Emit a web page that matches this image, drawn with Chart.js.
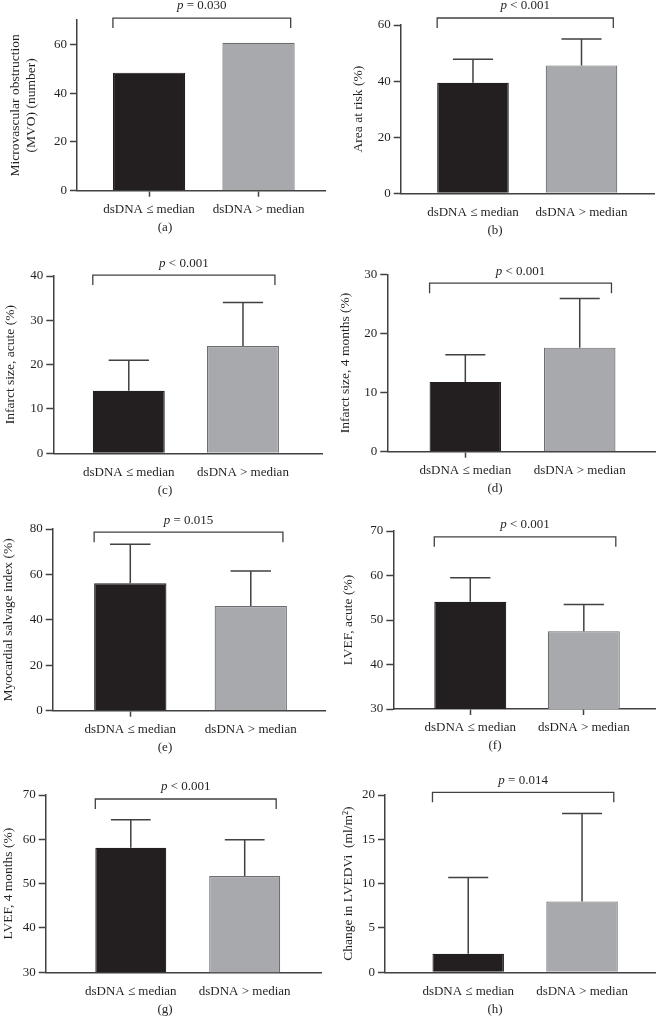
<!DOCTYPE html>
<html>
<head>
<meta charset="utf-8">
<script src="https://cdn.jsdelivr.net/npm/chart.js@4.4.1/dist/chart.umd.min.js"></script>
<style>
  body { margin: 0; background: #fff; width: 660px; height: 1032px; position: relative; overflow: hidden; }
  canvas { position: absolute; }
</style>
</head>
<body>
<script>
// ---- data ----
const categories = ['dsDNA \u2264 median', 'dsDNA > median'];
const panelLabels = ['(a)', '(b)', '(c)', '(d)', '(e)', '(f)', '(g)', '(h)'];
const yTitles = [
  ['Microvascular obstruction', '(MVO) (number)'],
  'Area at risk (%)',
  'Infarct size, acute (%)',
  'Infarct size, 4 months (%)',
  'Myocardial salvage index (%)',
  'LVEF, acute (%)',
  'LVEF, 4 months (%)',
  'Change in LVEDVi  (ml/m\u00b2)'
];
const means = [
  [48.4, 60.7],
  [39.4, 45.6],
  [14.1, 24.2],
  [11.8, 17.6],
  [56.1, 46.1],
  [54.1, 47.5],
  [58.1, 51.7],
  [2.1, 8.0]
];
const sds = [
  null,
  [8.4, 9.4],
  [6.9, 9.8],
  [4.6, 8.3],
  [17.2, 15.4],
  [5.4, 6.0],
  [6.3, 8.2],
  [8.6, 9.9]
];
const pTexts = ['= 0.030', '< 0.001', '< 0.001', '< 0.001', '= 0.015', '< 0.001', '< 0.001', '= 0.014'];
const yTicks = [
  [0, 20, 40, 60],
  [0, 20, 40, 60],
  [0, 10, 20, 30, 40],
  [0, 10, 20, 30],
  [0, 20, 40, 60, 80],
  [30, 40, 50, 60, 70],
  [30, 40, 50, 60, 70],
  [0, 5, 10, 15, 20]
];
const yMin = [0, 0, 0, 0, 0, 30, 30, 0];
const yMax = [70, 60, 40, 30, 80, 70, 70, 20];
const bracketLevels = [70.8, 62.5, 40.2, 28.5, 78.6, 68.7, 69.1, 20.3];

// ---- layout (page pixels) ----
const layouts = [
  { left: 0,   top: 0,   h: 248, axisX: 77,    axisTop: 20,    axisBottom: 190.7, axisRight: 325,   xMin: -0.658, xMax: 1.607, barPct: 0.66,  titleX: 15, xMarks: [1, 1] },
  { left: 330, top: 0,   h: 248, axisX: 400.7, axisTop: 25,    axisBottom: 193.3, axisRight: 654,   xMin: -0.666, xMax: 1.668, barPct: 0.66,  titleX: 28, xMarks: [0, 0] },
  { left: 0,   top: 248, h: 252, axisX: 53.3,  axisTop: 276,   axisBottom: 453.3, axisRight: 322,   xMin: -0.661, xMax: 1.692, barPct: 0.63,  titleX: 10, xMarks: [0, 0] },
  { left: 330, top: 248, h: 252, axisX: 387.3, axisTop: 274.3, axisBottom: 451.7, axisRight: 655,   xMin: -0.682, xMax: 1.658, barPct: 0.625, titleX: 15, xMarks: [1, 0] },
  { left: 0,   top: 500, h: 260, axisX: 52.7,  axisTop: 529,   axisBottom: 710.7, axisRight: 325,   xMin: -0.644, xMax: 1.616, barPct: 0.6,   titleX: 7,  xMarks: [1, 0] },
  { left: 330, top: 500, h: 260, axisX: 393.3, axisTop: 531,   axisBottom: 709,   axisRight: 655,   xMin: -0.678, xMax: 1.627, barPct: 0.634, titleX: 18, xMarks: [1, 1] },
  { left: 0,   top: 760, h: 272, axisX: 45.7,  axisTop: 795,   axisBottom: 972.3, axisRight: 321.7, xMin: -0.747, xMax: 1.676, barPct: 0.623, titleX: 8,  xMarks: [0, 0] },
  { left: 330, top: 760, h: 272, axisX: 385,   axisTop: 795,   axisBottom: 972.3, axisRight: 655,   xMin: -0.731, xMax: 1.641, barPct: 0.628, titleX: 18, xMarks: [0, 0] }
];

const FONT = '"Liberation Serif", "Times New Roman", serif';
const INK = '#231f20';
const AXIS = '#414042';
const X_H = 40;

// error bars, bracket with p value, panel letter
const annot = {
  id: 'annot',
  afterDatasetsDraw(chart, args, opts) {
    const i = opts.idx, L = layouts[i];
    const ctx = chart.ctx;
    const y = chart.scales.y;
    const bars = chart.getDatasetMeta(0).data;
    ctx.save();
    ctx.strokeStyle = AXIS;
    ctx.lineWidth = 1.5;
    if (sds[i]) {
      bars.forEach((b, k) => {
        const top = y.getPixelForValue(means[i][k] + sds[i][k]);
        const cw = b.width * 0.28;
        ctx.beginPath();
        ctx.moveTo(b.x, b.y);
        ctx.lineTo(b.x, top);
        ctx.moveTo(b.x - cw, top);
        ctx.lineTo(b.x + cw, top);
        ctx.stroke();
      });
    }
    // bracket
    const by = y.getPixelForValue(bracketLevels[i]);
    const x1 = bars[0].x - bars[0].width / 2;
    const x2 = bars[1].x + bars[1].width / 2 - 4;
    ctx.lineWidth = 1.3;
    ctx.beginPath();
    ctx.moveTo(x1, by + 10);
    ctx.lineTo(x1, by);
    ctx.lineTo(x2, by);
    ctx.lineTo(x2, by + 10);
    ctx.stroke();
    // p text
    ctx.fillStyle = INK;
    ctx.textBaseline = 'middle';
    ctx.textAlign = 'left';
    const pf = 'italic 13px ' + FONT, rf = '13px ' + FONT;
    ctx.font = pf; const wp = ctx.measureText('p').width;
    ctx.font = rf; const wr = ctx.measureText(' ' + pTexts[i]).width;
    const cx = (x1 + x2) / 2 - (wp + wr) / 2;
    const ty = by - 12;
    ctx.font = pf; ctx.fillText('p', cx, ty);
    ctx.font = rf; ctx.fillText(' ' + pTexts[i], cx + wp, ty);
    // panel letter
    ctx.textAlign = 'center';
    ctx.fillText(panelLabels[i], 165, L.axisBottom - L.top + 37);
    ctx.restore();
  }
};

layouts.forEach((L, i) => {
  const cv = document.createElement('canvas');
  cv.width = 330; cv.height = L.h;
  cv.style.left = L.left + 'px';
  cv.style.top = L.top + 'px';
  document.body.appendChild(cv);

  new Chart(cv.getContext('2d'), {
    type: 'bar',
    data: {
      datasets: [{
        data: means[i].map((v, k) => ({ x: k, y: v })),
        backgroundColor: ['#231f20', '#a7a9ac'],
        borderColor: ['#231f20', '#6d6e71'],
        borderWidth: 1.2,
        barPercentage: L.barPct,
        categoryPercentage: 1
      }]
    },
    plugins: [annot],
    options: {
      responsive: false,
      animation: false,
      layout: {
        padding: {
          left: 0,
          top: L.axisTop - L.top,
          right: L.left + 330 - L.axisRight,
          bottom: L.h - (L.axisBottom - L.top) - X_H
        }
      },
      plugins: {
        legend: { display: false },
        tooltip: { enabled: false },
        annot: { idx: i }
      },
      scales: {
        x: {
          type: 'linear',
          offset: false,
          min: L.xMin,
          max: L.xMax,
          afterBuildTicks: s => { s.ticks = [{ value: 0 }, { value: 1 }]; },
          afterFit: s => { s.height = X_H; },
          ticks: {
            callback: v => categories[v],
            font: { family: FONT, size: 13 },
            color: INK,
            padding: 5,
            maxRotation: 0,
            autoSkip: false
          },
          grid: {
            offset: false,
            drawOnChartArea: false,
            tickLength: 6,
            tickWidth: 1.5,
            tickColor: c => (L.xMarks[c.index] ? AXIS : 'rgba(0,0,0,0)')
          },
          border: { color: AXIS, width: 1.5 }
        },
        y: {
          min: yMin[i],
          max: yMax[i],
          afterBuildTicks: s => { s.ticks = yTicks[i].map(v => ({ value: v })); },
          afterFit: s => { s.width = L.axisX - L.left; },
          ticks: {
            font: { family: FONT, size: 13 },
            color: INK,
            padding: 3
          },
          grid: {
            drawOnChartArea: false,
            tickLength: 7,
            tickWidth: 1.5,
            tickColor: AXIS
          },
          border: { color: AXIS, width: 1.5 },
          title: {
            display: true,
            text: yTitles[i],
            font: { family: FONT, size: 13.5, lineHeight: 1.25 },
            color: INK,
            padding: { top: Math.max(0, L.titleX - 8.4), bottom: 0 }
          }
        }
      }
    }
  });
});
</script>
</body>
</html>
